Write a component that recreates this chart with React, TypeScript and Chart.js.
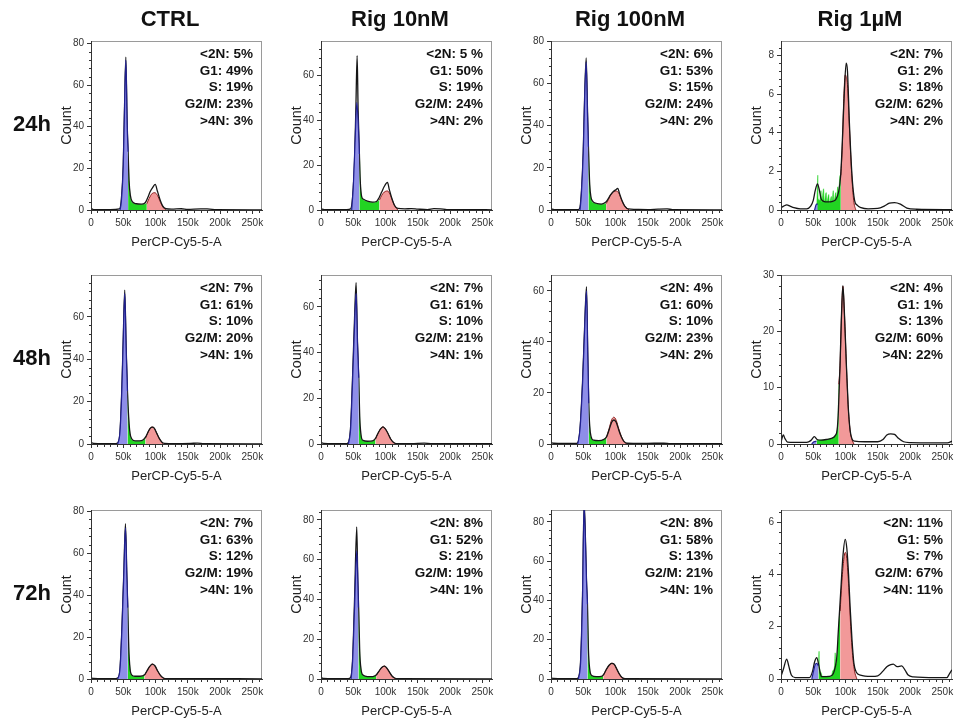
import React, { useEffect, useRef } from 'react';
import { Chart, registerables } from 'chart.js';

Chart.register(...registerables);

type Pt = [number, number];

// ---------- labels ----------
const columnTitles = ['CTRL', 'Rig 10nM', 'Rig 100nM', 'Rig 1µM'];
const rowTitles = ['24h', '48h', '72h'];
const phaseNames = ['<2N', 'G1', 'S', 'G2/M', '>4N'];
const xTickValues = [0, 50, 100, 150, 200, 250]; // thousands
const X_MAX = 265;

// ---------- 24h ----------
const ctrl24Total: Pt[] = [[0,0.8],[4,0.2],[30,0.2],[44,0.5],[47,5],[50,22],[52,50],[54,73.5],[56,42],[57.5,28],[59,14],[61,7],[64,4],[70,3],[78,2.8],[84,3.5],[88,6],[92,9],[96,11],[99.5,12.3],[103,9],[107,5],[111,2],[116,0.6],[125,0.4],[140,0.6],[150,0.3],[170,0.5],[180,0.5],[195,0.2],[265,0.1]];
const ctrl24G1: Pt[] = [[45,0],[47,4],[50,21],[52,49],[54,72],[56,41],[57.5,28]];
const ctrl24S: Pt[] = [[57.5,28],[59,13],[61,6],[64,3.5],[70,2.8],[78,2.6],[86.5,3]];
const ctrl24G2: Pt[] = [[86.5,3],[90,5.5],[95,8],[99,8.3],[103,7],[108,3.5],[112,1.2],[116,0]];
const ctrl24Pct = ['5', '49', '19', '23', '3'];

const r10n24Total: Pt[] = [[0,0.5],[5,0.2],[40,0.2],[46,0.5],[49,6],[52,22],[54,45],[56,69],[57.5,45],[59.5,25],[61,12],[63,6],[66,4.8],[72,4],[80,3.5],[86,3.8],[90,5.5],[94,8],[98,10.5],[103,12.3],[106,9],[110,5],[114,2],[119,0.7],[130,0.5],[140,0.6],[150,0.4],[165,0.2],[175,0.6],[185,0.5],[195,0.2],[265,0.1]];
const r10n24G1: Pt[] = [[47.5,0],[50,10],[53,32],[55.5,48],[57.5,40],[59.5,25]];
const r10n24S: Pt[] = [[59.5,25],[61,12],[63,6],[66,4.5],[72,3.8],[80,3.4],[86,3.6],[90.7,4.5]];
const r10n24G2: Pt[] = [[90.7,4.5],[94,6.5],[98,8],[103,8.5],[107,7],[111,4],[115,1.5],[119,0]];
const r10n24Pct = ['5 ', '50', '19', '24', '2'];

const r100n24Total: Pt[] = [[0,0.5],[5,0.2],[40,0.2],[44,0.5],[47,8],[50,28],[52,52],[54.5,72],[56.5,48],[58,30],[60,12],[62,6],[65,4],[70,3.2],[78,2.8],[84,3.5],[88,5],[92,7],[96,8.5],[100,9.5],[103.5,10.2],[106,8],[110,4.5],[114,2],[120,0.5],[130,0.3],[150,0.2],[166,0.4],[180,0.5],[188,0.2],[265,0.1]];
const r100n24G1: Pt[] = [[45,0],[47,7],[50,27],[52,51],[54.5,70],[56.5,46],[58,30]];
const r100n24S: Pt[] = [[58,30],[60,11],[62,5.5],[65,3.5],[70,3],[78,2.7],[85.5,3]];
const r100n24G2: Pt[] = [[85.5,3],[89,5],[93,7.5],[97,8.8],[101,9],[105,8],[109,5],[114,2],[121,0]];
const r100n24Pct = ['6', '53', '15', '24', '2'];

const r1u24Total: Pt[] = [[0,0.12],[4,0.2],[9,0.27],[14,0.2],[20,0.12],[30,0.06],[40,0.06],[46,0.2],[50,0.5],[53,1.0],[56.5,1.35],[59,1.1],[62,0.6],[66,0.45],[72,0.42],[80,0.45],[85,0.55],[89,0.9],[92.5,1.8],[95,3.5],[98,6],[101,7.6],[103,7.2],[106,4.5],[110,1.8],[114,0.5],[118,0.25],[124,0.12],[135,0.06],[150,0.08],[160,0.2],[168,0.35],[176,0.38],[185,0.3],[195,0.1],[210,0.04],[265,0.02]];
const r1u24G1: Pt[] = [[52,0],[55,0.3],[57,0.3]];
const r1u24S: Pt[] = [[55.5,0.3],[56.5,1.3],[57,1.8],[57.5,0.6],[60,0.5],[62,1.0],[63,0.4],[66,1.1],[67,0.4],[70,0.9],[71,0.4],[74,0.8],[75,0.35],[78,0.7],[79,0.4],[81,1.0],[82,0.4],[85,0.9],[86,0.5],[88,1.2],[89,0.7],[91.5,1.8],[92.7,1.8]];
const r1u24G2: Pt[] = [[92.7,1.8],[95,3.3],[97,5.5],[99.5,7.0],[101,6.9],[103,6.5],[106,4.3],[110,1.6],[113,0.4],[116,0]];
const r1u24Pct = ['7', '2', '18', '62', '2'];

// ---------- 48h ----------
const ctrl48Total: Pt[] = [[0,0.6],[4,0.3],[20,0.2],[38,0.2],[41.5,0.5],[45,6],[48,28],[50,50],[52.3,72.6],[54.5,45],[56.5,25],[58.5,12],[60.5,5],[63,2.5],[68,1.5],[75,1.5],[81,2],[85,3.5],[89,6],[92,7.5],[95,8],[98,7.5],[102,5],[106,2.5],[110,0.8],[114,0.3],[130,0.2],[155,0.3],[165,0.4],[175,0.2],[265,0.1]];
const ctrl48G1: Pt[] = [[41.5,0],[45,6],[48,27],[50,49],[52.3,71],[54.5,44],[56.5,25]];
const ctrl48S: Pt[] = [[56.5,25],[58.5,11],[60.5,4.5],[63,2],[68,1.3],[75,1.3],[81,1.7],[84.5,2.8]];
const ctrl48G2: Pt[] = [[84.5,2.8],[89,6],[92,7.5],[95,8],[98,7.5],[102,5],[106,2.5],[110,0.8],[112,0]];
const ctrl48Pct = ['7', '61', '10', '20', '1'];

const r10n48Total: Pt[] = [[0,0.6],[4,0.3],[20,0.2],[40,0.2],[43,1],[46,8],[49,30],[52,55],[54.4,70.7],[56.5,45],[58.5,29],[60,12],[62,4],[65,1.6],[72,1.2],[80,1.4],[84.5,2.5],[88,4.5],[92,6.5],[96,7.5],[100,6.5],[104,4.5],[108,2.2],[112,0.8],[117,0.2],[140,0.2],[160,0.35],[170,0.2],[265,0.1]];
const r10n48G1: Pt[] = [[42.5,0],[46,7],[49,28],[52,52],[54.4,66],[56.5,44],[58.5,29]];
const r10n48S: Pt[] = [[58.5,29],[60,11],[62,3.5],[65,1.3],[72,1],[80,1.2],[84.5,2.2]];
const r10n48G2: Pt[] = [[84.5,2.2],[88,4.5],[92,6.5],[96,7.5],[100,6.5],[104,4.5],[108,2.2],[112,0.8],[116.6,0]];
const r10n48Pct = ['7', '61', '10', '21', '1'];

const r100n48Total: Pt[] = [[0,0.6],[4,0.3],[20,0.2],[38,0.2],[41.5,0.5],[45,6],[49,25],[52,45],[55,61.6],[57,35],[58.5,16],[60,7],[62,3],[66,1.5],[74,1.3],[82,1.8],[86,2.8],[90,5.5],[94,8.5],[97.5,9.4],[101,8.5],[105,5.5],[109,2.8],[113,1],[118,0.3],[140,0.2],[160,0.3],[175,0.3],[185,0.15],[265,0.1]];
const r100n48G1: Pt[] = [[41.5,0],[45,6],[49,24],[52,44],[55,60],[57,34],[58.5,16]];
const r100n48S: Pt[] = [[58.5,16],[60,6.5],[62,2.5],[66,1.3],[74,1.2],[82,1.7],[86,2.6]];
const r100n48G2: Pt[] = [[86,2.6],[90,6],[94,9.5],[97.5,10.5],[101,9.3],[105,6],[109,3],[113,1],[118,0]];
const r100n48Pct = ['4', '60', '10', '23', '2'];

const r1u48Total: Pt[] = [[0,0.3],[2,1.2],[3.6,1.6],[6,1.0],[10,0.35],[20,0.3],[40,0.3],[46,0.6],[51.8,1.3],[56,0.8],[62,0.7],[70,0.8],[78,1.0],[84,1.5],[87,2.5],[89,6],[91.5,14],[93.5,22],[95.9,28.1],[98,24],[101,15],[104,7],[107,2.5],[110,0.9],[114,0.5],[130,0.4],[150,0.4],[158,0.8],[164,1.6],[170,1.8],[176,1.7],[182,1.0],[190,0.4],[200,0.25],[240,0.2],[258,0.2],[265,0.5]];
const r1u48G1: Pt[] = [[47.5,0],[51,0.4],[55,0.5]];
const r1u48S: Pt[] = [[55,0.5],[57,0.7],[62,0.7],[70,0.8],[78,1.0],[84,1.5],[87,2.5],[88.5,5],[89.5,10.6]];
const r1u48G2: Pt[] = [[89.5,10.6],[91.5,14],[93.5,22],[95.9,28],[98,24],[101,15],[104,7],[107,2.5],[110,0.8],[113,0]];
const r1u48Pct = ['4', '1', '13', '60', '22'];

// ---------- 72h ----------
const ctrl72Total: Pt[] = [[0,0.5],[4,0.3],[20,0.2],[38,0.2],[41.5,0.5],[45,5],[48,25],[51,52],[53.4,74],[55.5,50],[57,34],[58.5,15],[60.5,5],[63,2],[68,1.3],[76,1.3],[83,2],[87,4],[91,6],[95,7.1],[99,6.3],[103,4],[107,2],[111,0.7],[115,0.2],[150,0.2],[265,0.1]];
const ctrl72G1: Pt[] = [[41.5,0],[45,5],[48,24],[51,51],[53.4,72],[55.5,49],[57,34]];
const ctrl72S: Pt[] = [[57,34],[58.5,14],[60.5,4.5],[63,1.8],[68,1.1],[76,1.1],[83,1.8]];
const ctrl72G2: Pt[] = [[83,1.8],[87,4],[91,6],[95,7.1],[99,6.3],[103,4],[107,2],[111,0.7],[114,0]];
const ctrl72Pct = ['7', '63', '12', '19', '1'];

const r10n72Total: Pt[] = [[0,0.8],[4,0.3],[20,0.2],[42,0.2],[46,0.8],[49,10],[52,40],[55.4,76.5],[57,50],[58.5,34],[60,14],[62,5],[65,2],[72,1.2],[80,1.2],[85.5,2],[90,4],[94,5.8],[98.4,6.5],[102,5.5],[106,3.5],[110,1.5],[114,0.5],[120,0.2],[265,0.1]];
const r10n72G1: Pt[] = [[46.6,0],[49,9],[52,36],[55.4,64.5],[57,50],[58,36]];
const r10n72S: Pt[] = [[58,36],[60,13],[62,4.5],[65,1.8],[72,1],[80,1],[85.5,1.8]];
const r10n72G2: Pt[] = [[85.5,1.8],[90,4],[94,5.8],[98.4,6.5],[102,5.5],[106,3.5],[110,1.5],[116,0]];
const r10n72Pct = ['8', '52', '21', '19', '1'];

const r100n72Total: Pt[] = [[0,0.5],[4,0.3],[20,0.2],[40,0.2],[42.5,0.8],[46,10],[49,45],[51.3,90],[53.5,70],[55,50],[56.5,38],[58,15],[60,5],[63,1.8],[70,1.2],[78,1.3],[82,2.5],[86,5],[90,7],[94,8],[98,7.5],[102,5],[106,2.5],[110,0.8],[115,0.2],[265,0.1]];
const r100n72G1: Pt[] = [[42.5,0],[46,9],[49,43],[51.3,88],[53.5,68],[55,50],[56.5,38]];
const r100n72S: Pt[] = [[56.5,38],[58,14],[60,4.5],[63,1.5],[70,1],[78,1.1],[81,1.8]];
const r100n72G2: Pt[] = [[81,1.8],[86,5],[90,7],[94,8],[98,7.5],[102,5],[106,2.5],[110,0.8],[115,0]];
const r100n72Pct = ['8', '58', '13', '21', '1'];

const r1u72Total: Pt[] = [[0,0.1],[4,0.4],[8.8,0.76],[12,0.5],[16,0.15],[22,0.05],[44,0.05],[49,0.3],[52,0.65],[55.4,0.82],[58,0.6],[61,0.2],[63,0.09],[75,0.1],[81,0.2],[84,0.45],[86.5,0.85],[89,1.9],[92.7,3.4],[96,4.7],[99.5,5.34],[102,5.0],[104.7,4.0],[107,2.8],[110,1.5],[113,0.6],[117,0.25],[123,0.15],[140,0.1],[150,0.12],[158,0.3],[164,0.47],[170,0.55],[174,0.57],[180,0.47],[187,0.5],[192,0.35],[197,0.15],[205,0.08],[240,0.05],[257,0.05],[261,0.2],[265,0.35]];
const r1u72G1: Pt[] = [[47.7,0],[50,0.25],[53,0.55],[55.4,0.6],[58,0.5]];
const r1u72S: Pt[] = [[58,0.5],[59,1.06],[59.5,0.45],[62,0.25],[64,0.1],[78,0.1],[80,0.3],[83,0.5],[84,1.0],[84.6,0.55],[87,0.8],[89,1.7],[90,2.24],[91.7,2.6]];
const r1u72G2: Pt[] = [[91.7,2.6],[94,3.6],[97,4.5],[99.5,4.84],[102,4.6],[105,3.5],[108,2],[111,0.9],[114,0.3],[117.6,0]];
const r1u72Pct = ['11', '5', '7', '67', '11'];

// ---------- axis ranges (y max and major step per panel, row by row) ----------
const yMaxes = [81.2, 75.5, 80, 8.75, 79.7, 74, 66.2, 30, 80.5, 85, 86, 6.46];
const ySteps = [20, 20, 20, 2, 20, 20, 20, 10, 20, 20, 20, 2];

const panelSeries = [
  [ctrl24Total, ctrl24G1, ctrl24S, ctrl24G2, ctrl24Pct],
  [r10n24Total, r10n24G1, r10n24S, r10n24G2, r10n24Pct],
  [r100n24Total, r100n24G1, r100n24S, r100n24G2, r100n24Pct],
  [r1u24Total, r1u24G1, r1u24S, r1u24G2, r1u24Pct],
  [ctrl48Total, ctrl48G1, ctrl48S, ctrl48G2, ctrl48Pct],
  [r10n48Total, r10n48G1, r10n48S, r10n48G2, r10n48Pct],
  [r100n48Total, r100n48G1, r100n48S, r100n48G2, r100n48Pct],
  [r1u48Total, r1u48G1, r1u48S, r1u48G2, r1u48Pct],
  [ctrl72Total, ctrl72G1, ctrl72S, ctrl72G2, ctrl72Pct],
  [r10n72Total, r10n72G1, r10n72S, r10n72G2, r10n72Pct],
  [r100n72Total, r100n72G1, r100n72S, r100n72G2, r100n72Pct],
  [r1u72Total, r1u72G1, r1u72S, r1u72G2, r1u72Pct],
] as [Pt[], Pt[], Pt[], Pt[], string[]][];

// ---------- layout ----------
const COL_LEFT = [91, 321, 551, 781];
const ROW_TOP = [41, 275, 510];
const BOX_W = 171;
const BOX_H = 169;
const PAD_L = 70;
const PAD_T = 12;
const PAD_R = 10;
const PAD_B = 45;
const FONT = "'Liberation Sans', Arial, Helvetica, sans-serif";

const toXY = (pts: Pt[]) => pts.map(([x, y]) => ({ x, y }));

const decorPlugin = {
  id: 'decor',
  beforeDraw(chart: any) {
    const { ctx, chartArea: a } = chart;
    ctx.save();
    ctx.strokeStyle = '#9a9a9a';
    ctx.lineWidth = 1;
    ctx.strokeRect(Math.round(a.left) + 0.5, Math.round(a.top) + 0.5, Math.round(a.right - a.left) - 1, Math.round(a.bottom - a.top));
    ctx.restore();
  },
  afterDraw(chart: any, _args: any, opts: any) {
    const { ctx, chartArea: a, scales } = chart;
    const xs = scales.x;
    const ys = scales.y;
    ctx.save();
    ctx.strokeStyle = '#333';
    ctx.lineWidth = 1;
    const bottom = Math.round(a.bottom) + 0.5;
    const left = Math.round(a.left) + 0.5;
    ctx.beginPath();
    ctx.moveTo(left, Math.round(a.top));
    ctx.lineTo(left, bottom);
    ctx.lineTo(Math.round(a.right), bottom);
    ctx.stroke();
    ctx.beginPath();
    for (let v = 10; v < xs.max; v += 10) {
      if (v % 50 === 0) continue;
      const px = Math.round(xs.getPixelForValue(v)) + 0.5;
      ctx.moveTo(px, bottom);
      ctx.lineTo(px, bottom + 2.5);
    }
    const minor = opts.yStep / 5;
    for (let i = 1; i * minor <= ys.max; i++) {
      if (i % 5 === 0) continue;
      const py = Math.round(ys.getPixelForValue(i * minor)) + 0.5;
      ctx.moveTo(left - 2.5, py);
      ctx.lineTo(left, py);
    }
    ctx.stroke();
    ctx.font = `bold 13.5px ${FONT}`;
    ctx.textAlign = 'right';
    ctx.textBaseline = 'alphabetic';
    ctx.fillStyle = '#111';
    (opts.lines as string[]).forEach((t, i) => {
      ctx.fillText(t, a.right - 9, a.top + 17 + i * 16.7);
    });
    ctx.restore();
  },
};

function Panel({ index }: { index: number }) {
  const ref = useRef<HTMLCanvasElement>(null);
  const row = Math.floor(index / 4);
  const col = index % 4;
  useEffect(() => {
    const [total, g1, s, g2, pct] = panelSeries[index];
    const lines = phaseNames.map((n, i) => `${n}: ${pct[i]}%`);
    const yStep = ySteps[index];
    const yMax = yMaxes[index];
    const chart = new Chart(ref.current as HTMLCanvasElement, {
      type: 'line',
      data: {
        datasets: [
          {
            label: 'G1',
            data: toXY(g1),
            borderColor: '#1f1f8f',
            borderWidth: 1.2,
            backgroundColor: '#8e8ee8',
            fill: 'origin',
            pointRadius: 0,
            cubicInterpolationMode: 'monotone',
          },
          {
            label: 'Total',
            data: toXY(total),
            borderColor: '#161616',
            borderWidth: 1.3,
            fill: false,
            pointRadius: 0,
            cubicInterpolationMode: 'monotone',
          },
          {
            label: 'G2/M',
            data: toXY(g2),
            borderColor: '#8a1d1d',
            borderWidth: 1,
            backgroundColor: '#f29999',
            fill: 'origin',
            pointRadius: 0,
            cubicInterpolationMode: 'monotone',
          },
          {
            label: 'S',
            data: toXY(s),
            borderColor: '#1ccf1c',
            borderWidth: 0.5,
            backgroundColor: '#22d422',
            fill: 'origin',
            pointRadius: 0,
            cubicInterpolationMode: 'monotone',
          },
        ],
      },
      options: {
        animation: false,
        responsive: false,
        devicePixelRatio: 1,
        events: [],
        layout: { padding: { left: 0, top: PAD_T, right: PAD_R, bottom: 0 } },
        plugins: {
          legend: { display: false },
          tooltip: { enabled: false },
          decor: { lines, yStep },
        } as any,
        scales: {
          x: {
            type: 'linear',
            min: 0,
            max: X_MAX,
            afterFit: (sc: any) => { sc.height = PAD_B; },
            afterBuildTicks: (sc: any) => { sc.ticks = xTickValues.map((v) => ({ value: v })); },
            ticks: {
              font: { size: 10, family: FONT },
              color: '#333',
              padding: 3,
              maxRotation: 0,
              autoSkip: false,
              callback: (v: any) => (Number(v) === 0 ? '0' : `${v}k`),
            },
            grid: { display: true, drawOnChartArea: false, drawTicks: true, tickLength: 4, color: '#333' },
            border: { display: true, color: '#333' },
            title: {
              display: true,
              text: 'PerCP-Cy5-5-A',
              font: { size: 13, family: FONT },
              color: '#222',
              padding: { top: 0, bottom: 5 },
            },
          },
          y: {
            type: 'linear',
            min: 0,
            max: yMax,
            afterFit: (sc: any) => { sc.width = PAD_L; },
            afterBuildTicks: (sc: any) => {
              const t: { value: number }[] = [];
              for (let v = 0; v <= yMax + 1e-9; v += yStep) t.push({ value: v });
              sc.ticks = t;
            },
            ticks: {
              font: { size: 10, family: FONT },
              color: '#333',
              padding: 3,
              autoSkip: false,
            },
            grid: { display: true, drawOnChartArea: false, drawTicks: true, tickLength: 4, color: '#333' },
            border: { display: true, color: '#333' },
            title: {
              display: true,
              text: 'Count',
              font: { size: 14.5, family: FONT },
              color: '#222',
              padding: { top: 37, bottom: 0 },
            },
          },
        },
      },
      plugins: [decorPlugin],
    } as any);
    return () => chart.destroy();
  }, [index]);
  const w = PAD_L + BOX_W + PAD_R;
  const h = PAD_T + BOX_H + PAD_B;
  return (
    <canvas
      ref={ref}
      width={w}
      height={h}
      style={{
        position: 'absolute',
        left: COL_LEFT[col] - PAD_L,
        top: ROW_TOP[row] - PAD_T,
        width: w,
        height: h,
      }}
    />
  );
}

export default function App() {
  const headStyle: React.CSSProperties = {
    position: 'absolute',
    fontFamily: FONT,
    fontWeight: 'bold',
    fontSize: 22,
    lineHeight: '30px',
    height: 30,
    color: '#111',
    whiteSpace: 'nowrap',
  };
  return (
    <div style={{ position: 'absolute', left: 0, top: 0, width: 960, height: 720, background: '#fff', overflow: 'hidden' }}>
      {panelSeries.map((_, i) => (
        <Panel key={i} index={i} />
      ))}
      {columnTitles.map((t, i) => (
        <div
          key={t}
          style={{ ...headStyle, left: COL_LEFT[i] + BOX_W / 2 - 6.5 - 80, width: 160, top: 19 - 15, textAlign: 'center' }}
        >
          {t}
        </div>
      ))}
      {rowTitles.map((t, i) => (
        <div key={t} style={{ ...headStyle, left: 13, top: ROW_TOP[i] + BOX_H / 2 - 1.5 - 15 }}>
          {t}
        </div>
      ))}
    </div>
  );
}
